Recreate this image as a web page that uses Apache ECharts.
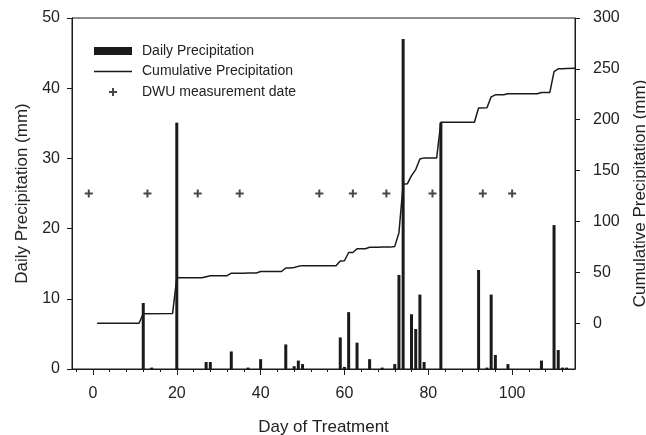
<!DOCTYPE html>
<html>
<head>
<meta charset="utf-8">
<script src="https://cdn.jsdelivr.net/npm/echarts@6/dist/echarts.min.js"></script>
<style>
html,body{margin:0;padding:0;background:#fff;}
#chart{width:646px;height:435px;}
</style>
</head>
<body>
<div id="chart"></div>
<script>
// Daily precipitation (mm) by day of treatment
var dailyDays = [12, 14, 20, 27, 28, 33, 37, 40, 46, 48, 49, 50, 59, 60, 61, 63, 66, 69, 72, 73, 74, 76, 77, 78, 79, 83, 92, 94, 95, 96, 99, 107, 110, 111, 112, 113];
var dailyValues = [9.4, 0.2, 35.1, 1.0, 1.0, 2.5, 0.2, 1.4, 3.5, 0.4, 1.2, 0.7, 4.5, 0.3, 8.1, 3.75, 1.4, 0.2, 0.7, 13.4, 47.0, 7.8, 5.7, 10.6, 1.0, 35.1, 14.1, 0.2, 10.6, 2.0, 0.7, 1.2, 20.5, 2.7, 0.2, 0.2];

// Cumulative precipitation (mm)
var cumDays = [1, 11, 12, 19, 20, 26, 27, 28, 32, 33, 36, 37, 39, 40, 45, 46, 47, 48, 49, 50, 58, 59, 60, 61, 62, 63, 65, 66, 68, 69, 71, 72, 73, 74, 75, 76, 77, 78, 79, 82, 83, 91, 92, 94, 95, 96, 98, 99, 106, 107, 109, 110, 111, 112, 113, 115];
var cumValues = [0, 0, 9.4, 9.6, 44.7, 44.7, 45.7, 46.7, 46.7, 49.2, 49.2, 49.4, 49.4, 50.8, 50.8, 54.3, 54.3, 54.7, 55.9, 56.6, 56.6, 61.1, 61.4, 69.5, 69.5, 73.2, 73.2, 74.6, 74.6, 74.8, 74.8, 75.5, 89, 136.5, 137, 145, 151, 161.5, 162.5, 162.5, 197.5, 197.5, 211.5, 211.7, 222.5, 224.5, 224.5, 225.5, 225.5, 226.8, 226.8, 247.3, 250, 250.2, 250.4, 250.5];

// DWU measurement dates
var dwuDays = [-1, 13, 25, 35, 54, 62, 70, 81, 93, 100];
var dwuLevel = 25;

var xMajor = [0, 20, 40, 60, 80, 100];
var xMinor = [-4, 4, 8, 12, 16, 24, 28, 32, 36, 44, 48, 52, 56, 64, 68, 72, 76, 84, 88, 92, 96, 104, 108, 112];
var rightTicks = [0, 50, 100, 150, 200, 250, 300];

var FONT = 'Liberation Sans, Arial, sans-serif';
var INK = '#1a1a1a';
var TXT = '#222';

var chart = echarts.init(document.getElementById('chart'), null, {renderer: 'canvas'});

var barData = dailyDays.map(function (d, i) { return [d, dailyValues[i]]; });
var cumData = cumDays.map(function (d, i) { return [d, cumValues[i]]; });
var dwuData = dwuDays.map(function (d) { return [d, dwuLevel]; });

var PLUS = 'path://M3,0h2v3h3v2h-3v3h-2v-3h-3v-2h3z';
var LINEICON = 'path://M0,0h38v1.5h-38z';

var option = {
  animation: false,
  backgroundColor: '#fff',
  textStyle: {fontFamily: FONT, color: TXT},
  grid: {left: 72, right: 71, top: 18, bottom: 66, show: true, borderColor: INK, borderWidth: 1, backgroundColor: 'transparent', containLabel: false, outerBoundsMode: 'none'},
  legend: {
    left: 89, top: 39, orient: 'vertical', itemWidth: 38, itemHeight: 8, itemGap: 6.5,
    textStyle: {fontFamily: FONT, fontSize: 14, color: TXT, padding: [0, 0, 0, 5]},
    data: [
      {name: 'Daily Precipitation', icon: 'rect'},
      {name: 'Cumulative Precipitation', icon: LINEICON},
      {name: 'DWU measurement date', icon: PLUS}
    ]
  },
  xAxis: [
    {
      type: 'value', min: -5, max: 115, position: 'bottom',
      name: 'Day of Treatment', nameLocation: 'middle', nameGap: 50,
      nameTextStyle: {fontFamily: FONT, fontSize: 17, color: TXT},
      axisLine: {show: true, onZero: false, lineStyle: {color: INK, width: 1}},
      axisTick: {show: true, length: 6, inside: false, customValues: xMajor, lineStyle: {color: INK}},
      axisLabel: {show: true, customValues: xMajor, fontSize: 16, color: TXT, fontFamily: FONT, margin: 17},
      splitLine: {show: false}
    },
    {
      type: 'value', min: -5, max: 115, position: 'bottom', gridIndex: 0,
      axisLine: {show: false, onZero: false},
      axisTick: {show: true, length: 3, customValues: xMinor, lineStyle: {color: INK}},
      axisLabel: {show: false},
      splitLine: {show: false}
    }
  ],
  yAxis: [
    {
      type: 'value', min: 0, max: 50, interval: 10, position: 'left',
      name: 'Daily Precipitation (mm)', nameLocation: 'middle', nameGap: 41, nameRotate: 90,
      nameTextStyle: {fontFamily: FONT, fontSize: 17, color: TXT},
      axisLine: {show: true, onZero: false, lineStyle: {color: INK, width: 1}},
      axisTick: {show: true, length: 5, lineStyle: {color: INK}},
      axisLabel: {fontSize: 16, color: TXT, fontFamily: FONT, margin: 12},
      splitLine: {show: false}
    },
    {
      type: 'value', min: -45, max: 300, position: 'right',
      name: 'Cumulative Precipitation (mm)', nameLocation: 'middle', nameGap: 57, nameRotate: 90,
      nameTextStyle: {fontFamily: FONT, fontSize: 17, color: TXT},
      axisLine: {show: true, onZero: false, lineStyle: {color: INK, width: 1}},
      axisTick: {show: true, length: 5, customValues: rightTicks, lineStyle: {color: INK}},
      axisLabel: {fontSize: 16, color: TXT, fontFamily: FONT, margin: 18, customValues: rightTicks},
      splitLine: {show: false}
    }
  ],
  series: [
    {
      name: 'Daily Precipitation', type: 'bar', xAxisIndex: 0, yAxisIndex: 0,
      data: barData, barWidth: 3, itemStyle: {color: INK}
    },
    {
      name: 'Cumulative Precipitation', type: 'line', xAxisIndex: 0, yAxisIndex: 1,
      data: cumData, symbol: 'none', lineStyle: {color: INK, width: 1.5}, itemStyle: {color: INK}
    },
    {
      name: 'DWU measurement date', type: 'scatter', xAxisIndex: 0, yAxisIndex: 0,
      data: dwuData, symbol: PLUS, symbolSize: 8, symbolKeepAspect: true, itemStyle: {color: INK}
    }
  ]
};
chart.setOption(option);
</script>
</body>
</html>
